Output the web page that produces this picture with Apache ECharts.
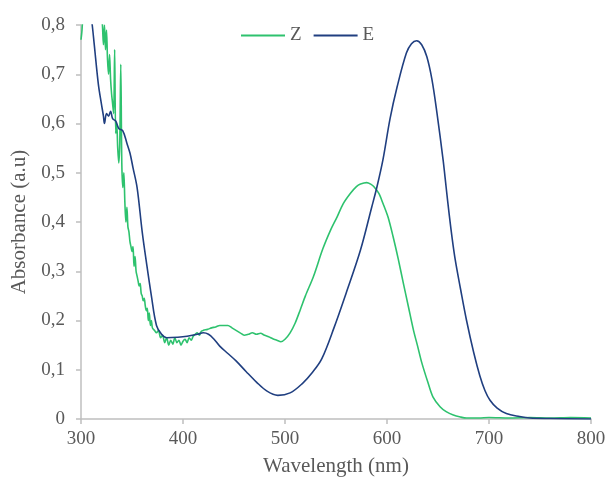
<!DOCTYPE html>
<html>
<head>
<meta charset="utf-8">
<script src="https://cdn.jsdelivr.net/npm/echarts@6/dist/echarts.min.js"></script>
<style>
html,body{margin:0;padding:0;background:#fff;}
#chart{width:609px;height:487px;}
</style>
</head>
<body>
<div id="chart"></div>
<script>
// ---- data ----
var seriesNames = ['Z', 'E'];
var xTicks = [300, 400, 500, 600, 700, 800];
var yTicks = [0, 0.1, 0.2, 0.3, 0.4, 0.5, 0.6, 0.7, 0.8];

var wavelengthZ = [300,301,303,306,310,314,318,321,322,323,324,325,326,327,328,329,330,331,332,333,334,335,336,337,338,339,340,341,342,343,344,345,346,347,348,349,350,351,352,353,354,355,356,357,358,359,360,361,362,363,364,365,366,367,368,369,370,372,374,376,378,380,382,384,386,388,390,392,394,396,398,400,402,404,406,408,410,412,414,416,418,420,424,428,432,436,440,444,448,452,456,460,464,468,472,476,480,484,488,492,496,500,505,510,515,520,528,537,545,551,557,564,570,574,580,584,587,592,596,601,606,611,616,621,626,630,634,640,645,652,658,665,672,678,690,700,720,740,760,780,800];
var absorbanceZ = [0.77,0.79,0.86,0.9,0.92,0.9,0.88,0.80,0.76,0.80,0.75,0.79,0.73,0.70,0.74,0.69,0.66,0.64,0.62,0.75,0.58,0.60,0.55,0.52,0.56,0.72,0.52,0.47,0.50,0.44,0.40,0.43,0.39,0.38,0.36,0.35,0.34,0.35,0.31,0.33,0.30,0.29,0.28,0.27,0.275,0.255,0.25,0.24,0.245,0.23,0.22,0.225,0.20,0.215,0.19,0.20,0.185,0.18,0.175,0.18,0.165,0.17,0.155,0.165,0.15,0.16,0.152,0.165,0.155,0.16,0.15,0.158,0.162,0.155,0.165,0.16,0.168,0.172,0.175,0.17,0.178,0.18,0.182,0.185,0.187,0.19,0.19,0.19,0.185,0.18,0.175,0.17,0.172,0.175,0.172,0.174,0.17,0.167,0.163,0.16,0.157,0.162,0.175,0.195,0.222,0.25,0.29,0.345,0.385,0.41,0.437,0.458,0.472,0.477,0.48,0.477,0.472,0.458,0.438,0.41,0.37,0.325,0.276,0.228,0.18,0.148,0.115,0.075,0.045,0.025,0.015,0.008,0.004,0.002,0.002,0.003,0.002,0.003,0.002,0.003,0.002];

var wavelengthE = [305,311,313,317,320,322,323,325,327,329,331,334,337,341,345,348,351,355,360,364,369,374,379,384,395,404,414,420,425,430,436,444,452,462,472,482,493,505,517,527,536,548,560,574,585,590,596,603,610,619,624,629,634,639,644,649,655,658,661,664,667,672,678,685,691,696,701,708,717,730,740,760,800];
var absorbanceE = [0.9,0.80,0.76,0.68,0.64,0.615,0.60,0.62,0.615,0.625,0.61,0.605,0.59,0.585,0.56,0.54,0.51,0.47,0.38,0.32,0.25,0.19,0.172,0.165,0.166,0.168,0.172,0.175,0.172,0.163,0.148,0.133,0.118,0.096,0.075,0.057,0.048,0.053,0.072,0.095,0.122,0.185,0.256,0.343,0.43,0.47,0.526,0.61,0.675,0.743,0.762,0.768,0.76,0.736,0.69,0.621,0.526,0.47,0.415,0.365,0.322,0.265,0.2,0.135,0.088,0.058,0.038,0.022,0.011,0.005,0.002,0.001,0];

function pairs(xs, ys){ return xs.map(function(x,i){ return [x, ys[i]]; }); }

var textColor = '#595959';
var axisColor = '#bfbfbf';
var fontFam = '"Liberation Serif", "Times New Roman", serif';
var greenColor = '#2ec26e';
var blueColor = '#203f80';

var chart = echarts.init(document.getElementById('chart'), null, {renderer:'canvas'});
chart.setOption({
  animation: false,
  backgroundColor: '#ffffff',
  grid: {left: 81, right: 18, top: 25, bottom: 68, containLabel: false},
  legend: {
    left: 236, top: 21,
    icon: 'rect',
    itemWidth: 44, itemHeight: 2, itemGap: 12,
    data: seriesNames,
    textStyle: {color: textColor, fontFamily: fontFam, fontSize: 19}
  },
  xAxis: {
    type: 'value', min: xTicks[0], max: xTicks[xTicks.length-1], interval: 100,
    name: 'Wavelength (nm)', nameLocation: 'middle', nameGap: 37,
    nameTextStyle: {color: textColor, fontFamily: fontFam, fontSize: 21},
    axisLine: {show: true, lineStyle: {color: axisColor, width: 1.5}},
    axisTick: {show: true, length: 5, lineStyle: {color: axisColor, width: 1.5}},
    axisLabel: {color: textColor, fontFamily: fontFam, fontSize: 19, margin: 11},
    splitLine: {show: false}
  },
  yAxis: {
    type: 'value', min: yTicks[0], max: yTicks[yTicks.length-1], interval: 0.1,
    name: 'Absorbance (a.u)', nameLocation: 'middle', nameGap: 48,
    nameTextStyle: {color: textColor, fontFamily: fontFam, fontSize: 21},
    axisLine: {show: true, lineStyle: {color: axisColor, width: 1.5}},
    axisTick: {show: true, length: 5, lineStyle: {color: axisColor, width: 1.5}},
    axisLabel: {color: textColor, fontFamily: fontFam, fontSize: 19, margin: 16,
      formatter: function(v){ return v === 0 ? '0' : v.toFixed(1).replace('.', ','); }},
    splitLine: {show: false}
  },
  series: [
    {name: seriesNames[0], type: 'line', data: pairs(wavelengthZ, absorbanceZ), symbol: 'none',
     smooth: 0.3, clip: true, z: 2, lineStyle: {color: greenColor, width: 1.6}, itemStyle: {color: greenColor}},
    {name: seriesNames[1], type: 'line', data: pairs(wavelengthE, absorbanceE), symbol: 'none',
     smooth: 0.35, clip: true, z: 3, lineStyle: {color: blueColor, width: 1.6}, itemStyle: {color: blueColor}}
  ]
});
</script>
</body>
</html>
